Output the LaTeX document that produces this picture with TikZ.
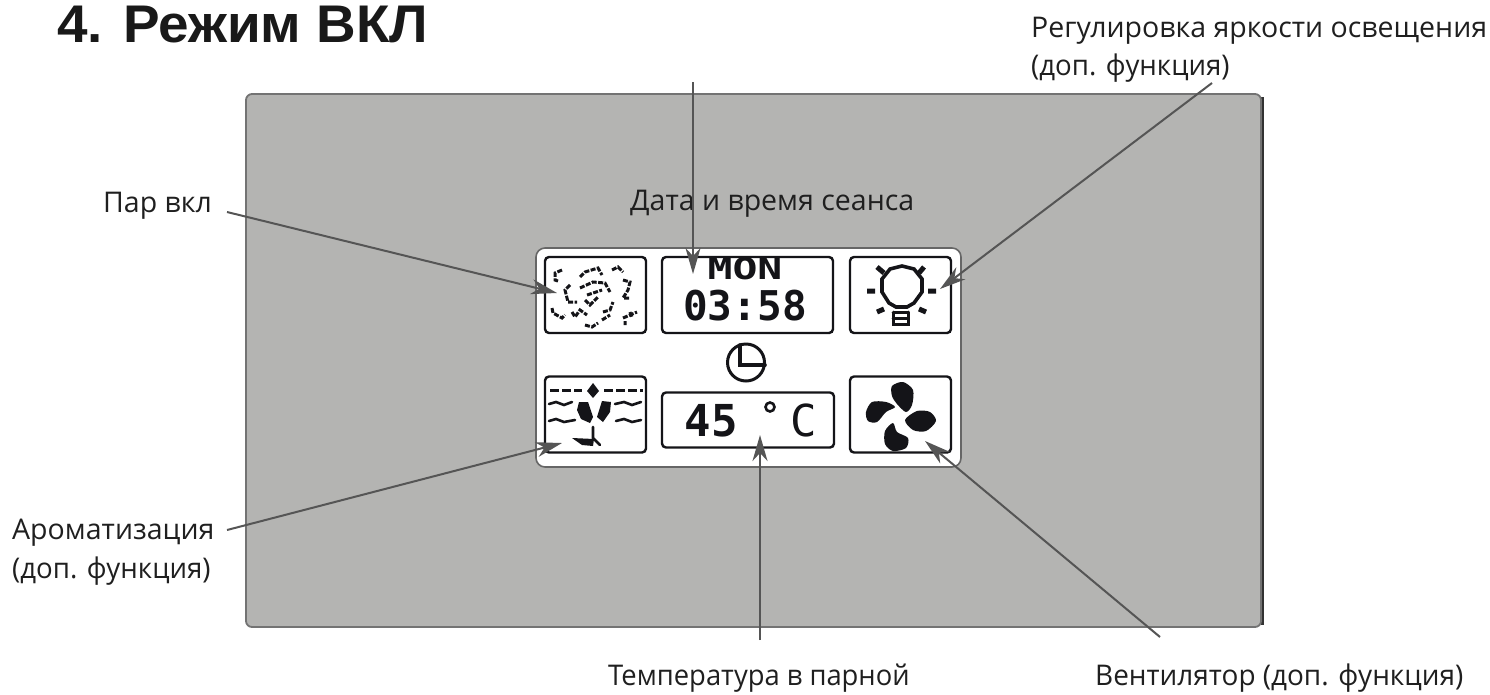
\documentclass[tikz,border=0pt]{standalone}
\usepackage{fontspec}
\setmainfont{Open Sans}
\newfontfamily\titlefont{Liberation Sans}
\newfontfamily\lcdfont{DejaVu Sans Mono}
\usetikzlibrary{arrows.meta}
\definecolor{panelgray}{HTML}{B4B4B2}
\definecolor{lcdink}{HTML}{141418}
\definecolor{leadgray}{HTML}{555555}
\begin{document}
\begin{tikzpicture}[x=1pt, y=-1pt,
        panel/.style={draw=black!55, line width=1.8pt, fill=panelgray, rounded corners=6pt},
        lcd/.style={draw=black!60, line width=1.6pt, fill=white, rounded corners=9pt},
        lcdbox/.style={draw=lcdink, line width=2.4pt, fill=white, rounded corners=4pt, inner sep=0pt},
        caption/.style={font=\fontsize{28.5}{34}\selectfont, inner sep=0pt, text=black!88},
        lead/.style={draw=leadgray, line width=2pt, -{Stealth[length=26pt, width=15pt, inset=8pt]}},
        ink/.style={draw=lcdink, line width=2.6pt, line cap=round},
        blade/.style={fill=lcdink, draw=none}
    ]
        \useasboundingbox (0,0) rectangle (1490,694);

        % Title
        \node[font=\titlefont\bfseries\fontsize{53}{58}\selectfont, xscale=1.035, anchor=base west, inner sep=0pt, text=black!90] (title) at (57,42) {4. Режим ВКЛ};

        % Panel and screen
        \draw[draw=black!80, line width=3pt, rounded corners=6pt] (1262,97) -- (1262,625);
        \path[panel] (246,94) rectangle (1261,627);
        \path[lcd] (536,248) rectangle (961,467);

        % Boxes on the screen
        \node[lcdbox, minimum width=101pt, minimum height=76pt] (steam) at (595.5,295) {};
        \node[lcdbox, minimum width=171pt, minimum height=76pt] (clock) at (747.5,295) {};
        \node[lcdbox, minimum width=101pt, minimum height=76pt] (bulb) at (900.5,295) {};
        \node[lcdbox, minimum width=101pt, minimum height=76pt] (aroma) at (595.5,414.5) {};
        \node[lcdbox, minimum width=172pt, minimum height=55pt] (temp) at (748,420) {};
        \node[lcdbox, minimum width=101pt, minimum height=76pt] (fan) at (900.5,414.5) {};

        % Screen texts
        \node[font=\lcdfont\bfseries\fontsize{30}{30}\selectfont, xscale=1.38, inner sep=0pt, text=lcdink] (day) at (745,269) {MON};
        \node[font=\lcdfont\bfseries\fontsize{41}{41}\selectfont, inner sep=0pt, text=lcdink] (time) at (745,306) {03:58};
        \node[font=\lcdfont\bfseries\fontsize{44}{44}\selectfont, inner sep=0pt, text=lcdink] (degrees) at (711,421) {45};
        \node[font=\lcdfont\fontsize{44}{44}\selectfont, inner sep=0pt, text=lcdink] (unit) at (804,420) {C};
        \draw[ink] (770,407) circle (4.5pt);

        % Clock icon
        \draw[ink, line width=3pt] (746,362.5) circle (18.5pt);
        \draw[ink, line width=3.6pt] (740,345) -- (740,365) -- (765,365);

        % Steam icon
        \draw[ink, line width=3pt, dash pattern=on 5pt off 1.5pt, line cap=butt]
            (562,270) -- (555,273) -- (555,280) -- (558,281)
            (580,277) -- (585,272) -- (598,268) -- (602,275)
            (612,270) -- (618,267) -- (623,272)
            (623,280) -- (630,282) -- (628,290) -- (623,298) -- (630,298)
            (570,285) -- (565,290) -- (568,302) -- (577,302)
            (580,288) -- (593,282) -- (605,283) -- (610,292)
            (587,295) -- (602,290)
            (585,300) -- (590,305) -- (598,297)
            (552,308) -- (553,313) -- (562,318) -- (565,315)
            (572,312) -- (575,317) -- (580,310) -- (587,315)
            (603,312) -- (610,310) -- (613,302)
            (602,320) -- (610,315)
            (585,325) -- (592,327) -- (598,323)
            (623,318) -- (637,312)
            (630,312) -- (632,318)
            (625,321) -- (625,325);

        % Bulb icon
        \draw[ink, line width=3.6pt] (902,266) -- (914,269) -- (922,279) -- (922,292) -- (914,303) -- (907,307) -- (896,307) -- (889,303) -- (882,292) -- (882,279) -- (890,269) -- cycle;
        \draw[ink, line width=3pt] (893,312) -- (893,324) -- (908,324) -- (908,312) (893,312) -- (908,312) (893,318) -- (908,318);
        \draw[ink, line width=5pt, line cap=butt] (867,291) -- (875,291) (928,291) -- (936,291)
            (877,267) -- (884,273) (924,267) -- (919,273)
            (877,312) -- (884,309) (926,312) -- (919,309);

        % Aroma icon
        \draw[ink, line width=3pt, dash pattern=on 9pt off 3pt, line cap=butt]
            (550,390) -- (582,390) (604,390) -- (643,390);
        \draw[ink] (549,404) -- (556,402) -- (564,405) -- (572,402)
            (615,404) -- (624,402) -- (632,405) -- (641,402)
            (549,421) -- (556,419) -- (564,422) -- (575,420)
            (616,421) -- (624,419) -- (632,422) -- (641,420);
        \fill[lcdink] (593,383) -- (599,391) -- (593,398) -- (587,391) -- cycle;
        \fill[lcdink] (579,402) -- (588,402) -- (593,417) -- (590,423) -- (581,419) -- (577,410) -- cycle;
        \fill[lcdink] (597,417) -- (602,401) -- (611,402) -- (610,412) -- (603,422) -- cycle;
        \draw[ink] (593,427) -- (593,438) -- (600,445);
        \fill[lcdink] (572,438) -- (594,439) -- (593,446) -- (582,445) -- cycle;

        % Fan icon
        \fill[blade] plot[smooth cycle] coordinates {(892,386) (903,382) (913,390) (912,405) (906,412) (897,404) (892,396)};
        \fill[blade] plot[smooth cycle] coordinates {(866,412) (872,402) (886,402) (895,407) (886,412) (877,422) (868,421)};
        \fill[blade] plot[smooth cycle] coordinates {(905,420) (917,411) (930,412) (936,421) (926,431) (913,430)};
        \fill[blade] plot[smooth cycle] coordinates {(885,431) (893,423) (897,432) (908,438) (906,448) (893,451) (885,444)};

        % Captions
        \node[caption, anchor=base west] (steamtext) at (103,212) {Пар вкл};
        \node[caption, anchor=base west] (clocktext) at (630,210) {Дата и время сеанса};
        \node[caption, anchor=base west] (bulbtext) at (1031,37) {Регулировка яркости освещения};
        \node[caption, anchor=base west, xscale=.97] (bulbtextb) at (1031,75) {(доп. функция)};
        \node[caption, anchor=base west] (aromatext) at (12,539) {Ароматизация};
        \node[caption, anchor=base west, xscale=.97] (aromatextb) at (12,578) {(доп. функция)};
        \node[caption, anchor=base west, xscale=.96] (temptext) at (608,685) {Температура в парной};
        \node[caption, anchor=base west, xscale=.98] (fantext) at (1095,685) {Вентилятор (доп. функция)};

        % Leader ends
        \coordinate (steamfrom) at (227,212);
        \coordinate (steamtip) at (557,293);
        \coordinate (clockfrom) at (693,82);
        \coordinate (clocktip) at (693,274);
        \coordinate (bulbfrom) at (1212,83);
        \coordinate (bulbtip) at (940,289);
        \coordinate (aromafrom) at (227,530);
        \coordinate (aromatip) at (562,443);
        \coordinate (tempfrom) at (760,640);
        \coordinate (temptip) at (760,435);
        \coordinate (fanfrom) at (1160,637);
        \coordinate (fantip) at (925,441);

        % Leaders
        \draw[lead] (steamfrom) -- (steamtip);
        \draw[lead] (clockfrom) -- (clocktip);
        \draw[lead] (bulbfrom) -- (bulbtip);
        \draw[lead] (aromafrom) -- (aromatip);
        \draw[lead] (tempfrom) -- (temptip);
        \draw[lead] (fanfrom) -- (fantip);
    \end{tikzpicture}
\end{document}
